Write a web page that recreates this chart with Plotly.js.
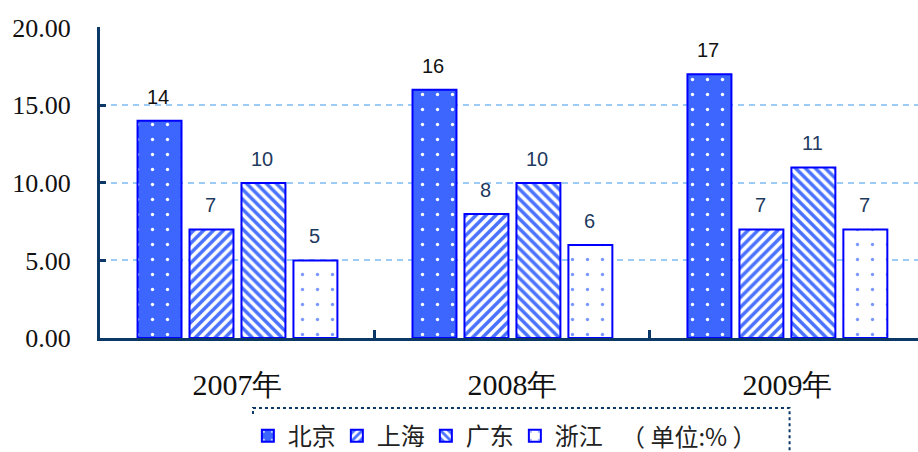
<!DOCTYPE html>
<html>
<head>
<meta charset="utf-8">
<script src="https://cdn.plot.ly/plotly-3.0.1.min.js"></script>
<style>
  body { margin: 0; background: #fff; }
  #chart { width: 918px; height: 452px; }
</style>
</head>
<body>
<div id="chart"></div>
<script>
// 数据
const years = ["2007年", "2008年", "2009年"];
const regions = ["北京", "上海", "广东", "浙江"];
const beijing = [14, 16, 17];
const shanghai = [7, 8, 7];
const guangdong = [10, 10, 11];
const zhejiang = [5, 6, 7];
const yTicks = [0, 5, 10, 15, 20];

const seriesValues = [beijing, shanghai, guangdong, zhejiang];

// 每个系列的图案样式
const patterns = [
    { shape: ".", bgcolor: "#3d66ff", fgcolor: "#ffffff", size: 15, solidity: 0.04, fillmode: "replace" },
    { shape: "/", bgcolor: "#ffffff", fgcolor: "#4a72ff", size: 7, solidity: 0.5, fillmode: "replace" },
    { shape: "\\", bgcolor: "#ffffff", fgcolor: "#4a72ff", size: 7, solidity: 0.5, fillmode: "replace" },
    { shape: ".", bgcolor: "#ffffff", fgcolor: "#7a98ff", size: 15, solidity: 0.04, fillmode: "replace" }
];
const labelColors = ["#111111", "#1f3a5f", "#1f3a5f", "#1f3a5f"];
const xShifts = [-79, -27, 25, 77];

const traces = regions.map((name, i) => ({
    type: "bar",
    name: name,
    x: years,
    y: seriesValues[i],
    marker: {
        color: patterns[i].bgcolor,
        line: { color: "#0000ff", width: 2 },
        pattern: patterns[i]
    },
    hoverinfo: "skip"
}));

// 数值标签
const annotations = [];
regions.forEach((name, i) => {
    seriesValues[i].forEach((v, j) => {
        annotations.push({
            x: years[j], y: v, xref: "x", yref: "y",
            text: String(v), showarrow: false,
            xshift: xShifts[i], yshift: 24,
            font: { family: "Liberation Sans", size: 20, color: labelColors[i] }
        });
    });
});
annotations.push({
    xref: "paper", yref: "paper", x: 0.72, y: -0.315,
    xanchor: "center", yanchor: "middle",
    text: "（ 单位:% ）", showarrow: false,
    font: { family: "Noto Sans CJK SC", size: 24, color: "#222" }
});

const layout = {
    width: 918,
    height: 452,
    margin: { l: 100, r: 0, t: 27, b: 114 },
    paper_bgcolor: "#ffffff",
    plot_bgcolor: "#ffffff",
    barmode: "group",
    bargap: 0.244,
    bargroupgap: 0.154,
    showlegend: true,
    legend: {
        orientation: "h",
        xref: "container", yref: "container",
        x: 0.27, y: 0.035,
        xanchor: "left", yanchor: "middle",
        font: { family: "Noto Sans CJK SC", size: 24, color: "#222" },
        entrywidth: 44,
        traceorder: "normal"
    },
    xaxis: {
        type: "category",
        range: [-0.5, 2.475],
        automargin: false,
        showline: true, linecolor: "#0b3866", linewidth: 3,
        ticks: "inside", tickson: "boundaries", ticklen: 8, tickwidth: 3, tickcolor: "#0b3866",
        ticklabelstandoff: 18,
        tickfont: { family: "Liberation Serif", size: 30, color: "#111" },
        showgrid: false, zeroline: false, fixedrange: true
    },
    yaxis: {
        range: [0, 20.05],
        automargin: false,
        tickvals: yTicks,
        tickformat: ".2f",
        showline: true, linecolor: "#0b3866", linewidth: 3,
        ticks: "inside", ticklen: 6, tickwidth: 3, tickcolor: "#0b3866",
        ticklabelstandoff: 21,
        tickfont: { family: "Liberation Serif", size: 26, color: "#111" },
        showgrid: true, gridcolor: "#9ccbf5", gridwidth: 2, griddash: "6px,5px",
        zeroline: false, fixedrange: true
    },
    shapes: [{
        type: "rect", xref: "paper", yref: "paper",
        x0: 0.187, x1: 0.843, y0: -0.225, y1: -0.4,
        line: { color: "#0b3866", width: 2, dash: "dot" }
    }],
    annotations: annotations
};

Plotly.newPlot("chart", traces, layout, { displayModeBar: false, staticPlot: true });
</script>
</body>
</html>
